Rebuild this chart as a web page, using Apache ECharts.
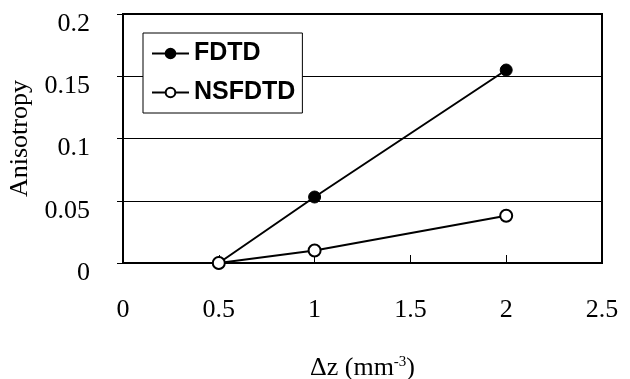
<!DOCTYPE html>
<html>
<head>
<meta charset="utf-8">
<script src="https://cdn.jsdelivr.net/npm/echarts@6/dist/echarts.min.js"></script>
<style>html,body{margin:0;padding:0;background:#fff}#c{width:630px;height:379px}</style>
</head>
<body>
<div id="c"></div>
<script>
var xValues = [0.5, 1, 2];
var fdtd = [0, 0.053, 0.155];
var nsfdtd = [0, 0.010, 0.038];
var seriesNames = ['FDTD', 'NSFDTD'];
var xTitle = 'Δz (mm';
var xTitleSup = '-3';
var yTitle = 'Anisotropy';

function pairs(xs, ys) { return xs.map(function (x, i) { return [x, ys[i]]; }); }

var chart = echarts.init(document.getElementById('c'), null, {renderer: 'canvas'});
var serif = '"Liberation Serif", "Times New Roman", serif';
chart.setOption({
  animation: false,
  backgroundColor: '#fff',
  grid: {left: 123, right: 28, top: 14, bottom: 116, show: true, borderColor: '#000', borderWidth: 2, containLabel: false, outerBoundsMode: 'none'},
  legend: {
    left: 143, top: 33, orient: 'vertical',
    backgroundColor: '#fff', borderColor: '#000', borderWidth: 1,
    padding: [8, 7, 8, 8], itemGap: 14, itemWidth: 37, itemHeight: 12,
    textStyle: {fontFamily: '"Liberation Sans", Arial, sans-serif', fontWeight: 'bold', fontSize: 25, color: '#000'},
    data: seriesNames
  },
  xAxis: {
    type: 'value', min: 0, max: 2.5, interval: 0.5,
    name: '{a|' + xTitle + '}{b|' + xTitleSup + '}{a|)}', nameLocation: 'middle', nameGap: 92,
    nameTextStyle: {rich: {a: {fontFamily: serif, fontSize: 26, color: '#000'}, b: {fontFamily: serif, fontSize: 15, color: '#000', verticalAlign: 'top', padding: [0, 0, 10, 0]}}},
    axisLine: {lineStyle: {color: '#000', width: 2}},
    axisTick: {inside: true, length: 8, lineStyle: {color: '#000', width: 1}},
    axisLabel: {margin: 34, fontFamily: serif, fontSize: 26, color: '#000'},
    splitLine: {show: false}
  },
  yAxis: {
    type: 'value', min: 0, max: 0.2, interval: 0.05,
    name: yTitle, nameLocation: 'middle', nameGap: 86,
    nameTextStyle: {fontFamily: serif, fontSize: 26, color: '#000'},
    axisLine: {lineStyle: {color: '#000', width: 2}},
    axisTick: {inside: false, length: 6, lineStyle: {color: '#000', width: 1}},
    axisLabel: {margin: 33, formatter: function (v) { return '{t|' + v + '}'; },
      rich: {t: {fontFamily: serif, fontSize: 26, color: '#000', padding: [20, 0, 0, 0]}}},
    splitLine: {show: true, lineStyle: {color: '#000', width: 1}}
  },
  series: [
    {name: seriesNames[0], type: 'line', data: pairs(xValues, fdtd), symbol: 'circle', symbolSize: 12,
     lineStyle: {color: '#000', width: 2}, itemStyle: {color: '#000', borderColor: '#000', borderWidth: 1}, z: 3},
    {name: seriesNames[1], type: 'line', data: pairs(xValues, nsfdtd), symbol: 'circle', symbolSize: 12,
     lineStyle: {color: '#000', width: 2}, itemStyle: {color: '#fff', borderColor: '#000', borderWidth: 2}, z: 4}
  ]
});
</script>
</body>
</html>
